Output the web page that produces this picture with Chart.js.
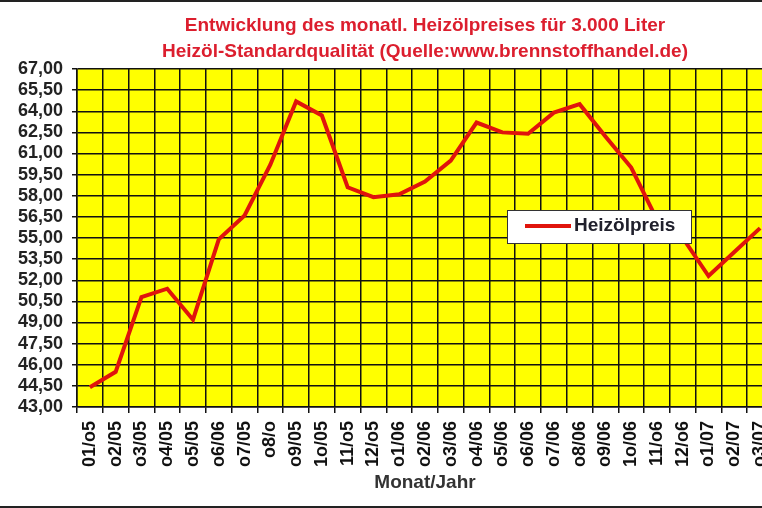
<!DOCTYPE html>
<html>
<head>
<meta charset="utf-8">
<script src="https://cdn.jsdelivr.net/npm/chart.js@4.4.1/dist/chart.umd.min.js"></script>
<style>
  body { margin: 0; background: #fff; }
  #wrap { position: relative; width: 762px; height: 508px; overflow: hidden; background: #fff; }
  #myChart { position: absolute; left: 0; top: 0; }
  .frame { position: absolute; left: 0; width: 762px; height: 2px; background: #222; }
</style>
</head>
<body>
<div id="wrap">
  <canvas id="myChart" width="790" height="508"></canvas>
  <div class="frame" style="top:0"></div>
  <div class="frame" style="top:506px"></div>
</div>
<script>
// monthly values (Euro per 100 l, 3.000 l order)
const months = ['01/o5', 'o2/05', 'o3/05', 'o4/05', 'o5/05', 'o6/06', 'o7/05', 'o8/o', 'o9/05', '1o/05', '11/o5', '12/o5',
  'o1/06', 'o2/06', 'o3/06', 'o4/06', 'o5/06', 'o6/06', 'o7/06', 'o8/06', 'o9/06', '1o/06', '11/o6', '12/o6',
  'o1/07', 'o2/07', 'o3/07'];
const prices = [44.4, 45.5, 50.8, 51.4, 49.2, 54.9, 56.6, 60.2, 64.7, 63.7, 58.6, 57.9,
  58.1, 59.0, 60.5, 63.2, 62.5, 62.4, 63.9, 64.5, 62.2, 60.0, 56.3, 55.0,
  52.3, 54.0, 55.7];
const titleLines = ['Entwicklung des monatl. Heizölpreises für 3.000 Liter', 'Heizöl-Standardqualität (Quelle:www.brennstoffhandel.de)'];
const seriesName = 'Heizölpreis';
const yMin = 43, yMax = 67, yStep = 1.5;

const FONT = 'Arial, "Liberation Sans", sans-serif';

// yellow plot area
const plotBg = {
  id: 'plotBg',
  beforeDraw(chart) {
    const a = chart.chartArea, ctx = chart.ctx;
    ctx.save();
    ctx.fillStyle = '#ffff00';
    ctx.fillRect(a.left, a.top, a.right - a.left, a.bottom - a.top);
    ctx.restore();
  }
};

// legend box sitting inside the plot like in the excel chart
const boxLegend = {
  id: 'boxLegend',
  afterDatasetsDraw(chart) {
    const a = chart.chartArea, ctx = chart.ctx;
    const ds = chart.data.datasets[0];
    const x = a.left + 430, y = a.top + 141, w = 184, h = 33;
    ctx.save();
    ctx.fillStyle = '#fff';
    ctx.fillRect(x, y, w, h);
    ctx.strokeStyle = '#333';
    ctx.lineWidth = 1;
    ctx.strokeRect(x + 0.5, y + 0.5, w, h);
    ctx.strokeStyle = ds.borderColor;
    ctx.lineWidth = 4;
    ctx.beginPath();
    ctx.moveTo(x + 18, y + 16);
    ctx.lineTo(x + 64, y + 16);
    ctx.stroke();
    ctx.fillStyle = '#20202c';
    ctx.font = 'bold 19px ' + FONT;
    ctx.textBaseline = 'middle';
    ctx.fillText(ds.label, x + 67, y + 16);
    ctx.restore();
  }
};

const ctx = document.getElementById('myChart').getContext('2d');
const myChart = new Chart(ctx, {
  type: 'line',
  data: {
    labels: months,
    datasets: [{
      label: seriesName,
      data: prices,
      borderColor: '#e0140c',
      borderWidth: 4,
      pointRadius: 0,
      tension: 0
    }]
  },
  options: {
    responsive: false,
    animation: false,
    layout: { padding: { left: 0, right: 14, top: 0, bottom: 0 } },
    plugins: {
      legend: { display: false },
      tooltip: { enabled: false },
      title: {
        display: true,
        fullSize: false,
        text: titleLines,
        color: '#dc1e2e',
        font: { family: FONT, size: 19, weight: 'bold', lineHeight: '26px' },
        padding: { top: 13, bottom: 4 }
      }
    },
    scales: {
      x: {
        offset: true,
        grid: { offset: true, color: '#111', lineWidth: 1.5, tickLength: 6, tickColor: '#111' },
        border: { color: '#111', width: 1.5 },
        ticks: {
          autoSkip: false,
          maxRotation: 90,
          minRotation: 90,
          padding: 8,
          color: '#111',
          font: { family: FONT, size: 18, weight: 'bold' }
        },
        title: {
          display: true,
          text: 'Monat/Jahr',
          color: '#333',
          font: { family: FONT, size: 19, weight: 'bold' },
          padding: { top: 0, bottom: 14 }
        },
        afterFit(scale) { scale.height = 101; }
      },
      y: {
        min: yMin,
        max: yMax,
        grid: { color: '#111', lineWidth: 1.5, tickLength: 5, tickColor: '#111' },
        border: { color: '#111', width: 1.5 },
        ticks: {
          autoSkip: false,
          stepSize: yStep,
          padding: 9,
          color: '#222',
          font: { family: FONT, size: 18, weight: 'bold' },
          callback: (v) => v.toFixed(2).replace('.', ',')
        },
        afterFit(scale) { scale.width = 77; }
      }
    }
  },
  plugins: [plotBg, boxLegend]
});
</script>
</body>
</html>
